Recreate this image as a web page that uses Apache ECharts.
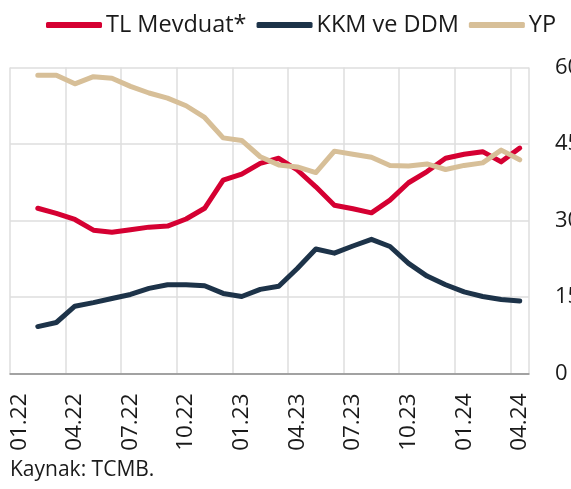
<!DOCTYPE html>
<html>
<head>
<meta charset="utf-8">
<script src="https://cdn.jsdelivr.net/npm/echarts@6/dist/echarts.min.js"></script>
<style>
  html, body { margin: 0; padding: 0; background: #fff; }
  #chart { width: 571px; height: 489px; }
</style>
</head>
<body>
<div id="chart"></div>
<script>
// aylar 01.22 - 04.24, ilk ayda veri yok
const months = [
  '01.22', '02.22', '03.22', '04.22', '05.22', '06.22', '07.22', '08.22', '09.22', '10.22', '11.22', '12.22',
  '01.23', '02.23', '03.23', '04.23', '05.23', '06.23', '07.23', '08.23', '09.23', '10.23', '11.23', '12.23',
  '01.24', '02.24', '03.24', '04.24'
]
const tlMevduat = [null,
  32.4, 31.4, 30.2, 28.1, 27.7, 28.2, 28.7, 28.9, 30.3, 32.4, 37.9, 39.1,
  41.2, 42.2, 39.9, 36.6, 33.0, 32.3, 31.5, 34.0, 37.4, 39.6, 42.2, 43.0,
  43.5, 41.5, 44.2]
const kkmDdm = [null,
  9.2, 10.0, 13.2, 13.9, 14.7, 15.5, 16.7, 17.4, 17.4, 17.2, 15.7, 15.1,
  16.5, 17.1, 20.6, 24.4, 23.6, 25.0, 26.3, 24.9, 21.6, 19.1, 17.4, 16.0,
  15.1, 14.5, 14.2]
const yp = [null,
  58.5, 58.5, 56.8, 58.2, 57.9, 56.3, 55.0, 54.0, 52.5, 50.2, 46.2, 45.7,
  42.5, 40.9, 40.5, 39.4, 43.6, 43.0, 42.4, 40.8, 40.7, 41.1, 40.0, 40.8,
  41.3, 43.8, 41.9]
const yTicks = [0, 15, 30, 45, 60]

const FONT = 'Open Sans'
const chart = echarts.init(document.getElementById('chart'))

function lineSeries(name, data, color) {
  return {
    name: name,
    type: 'line',
    data: data,
    symbol: 'none',
    color: color,
    lineStyle: { width: 5, color: color, cap: 'round', join: 'round' }
  }
}

const option = {
  animation: false,
  textStyle: { fontFamily: FONT },
  legend: {
    top: 8,
    left: 41,
    width: 560,
    icon: 'roundRect',
    itemWidth: 56,
    itemHeight: 6,
    itemGap: 10,
    itemStyle: { borderWidth: 0 },
    textStyle: { fontSize: 23.5, color: '#1a1a1a', fontFamily: FONT, padding: [0, 0, 0, -1] }
  },
  grid: { left: 10, right: 42, top: 67.5, bottom: 115.5, outerBoundsMode: 'none', containLabel: false },
  xAxis: {
    type: 'category',
    data: months,
    boundaryGap: true,
    axisLine: { show: true, lineStyle: { color: '#8c8c8c', width: 1.5 } },
    axisTick: { show: false },
    axisLabel: {
      interval: 2,
      rotate: 90,
      margin: 20,
      fontSize: 22.5,
      color: '#1a1a1a',
      fontFamily: FONT,
      padding: [8, 0, 0, 0]
    },
    splitLine: { show: true, interval: 2, lineStyle: { color: '#dedede', width: 1.5 } }
  },
  yAxis: {
    type: 'value',
    position: 'right',
    min: yTicks[0],
    max: yTicks[yTicks.length - 1],
    interval: 15,
    axisLine: { show: false },
    axisTick: { show: false },
    axisLabel: { margin: 26, fontSize: 22, color: '#1a1a1a', fontFamily: FONT },
    splitLine: { lineStyle: { color: '#dedede', width: 1.5 } }
  },
  series: [
    lineSeries('TL Mevduat*', tlMevduat, '#d50032'),
    lineSeries('KKM ve DDM', kkmDdm, '#1d3349'),
    lineSeries('YP', yp, '#d7bf98')
  ],
  graphic: [{
    type: 'text',
    left: 10,
    top: 460,
    style: { text: 'Kaynak: TCMB.', fontSize: 21, fill: '#1a1a1a', fontFamily: FONT }
  }]
}

chart.setOption(option)
</script>
</body>
</html>
